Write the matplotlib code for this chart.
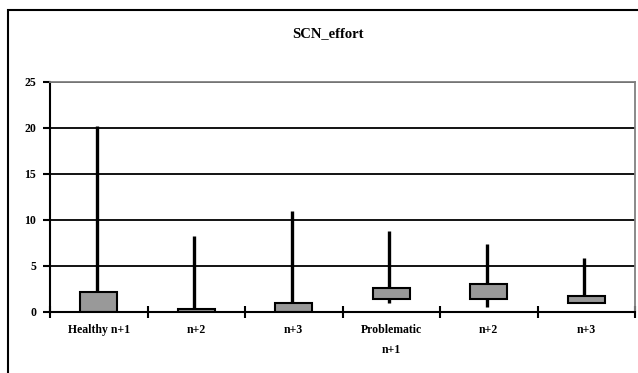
import numpy as np
import matplotlib
matplotlib.use("Agg")
from matplotlib import pyplot as plt
from matplotlib.patches import Rectangle

# stock-style chart: high/low whiskers with a box between open and close
categories = ["Healthy n+1", "n+2", "n+3", "Problematic\nn+1", "n+2", "n+3"]
high = [20.2, 8.2, 11.0, 8.8, 7.4, 5.8]
low = [0.0, 0.0, 0.0, 1.0, 0.5, 0.95]
box_bottom = [0.0, 0.0, 0.0, 1.4, 1.4, 0.95]
box_top = [2.1, 0.25, 1.0, 2.6, 3.0, 1.75]
y_ticks = [0, 5, 10, 15, 20, 25]

plt.rcParams['font.family'] = ['Liberation Serif', 'DejaVu Serif']

fig = plt.figure(figsize=(6.38, 3.73), dpi=100)
fig.patch.set_facecolor("white")

# outer chart frame (runs past the right/bottom edge in the reference)
fig.patches.append(Rectangle((8 / 638, -0.1), 1.1, 1 - 10 / 373 + 0.1,
                             transform=fig.transFigure, fill=False,
                             edgecolor="black", linewidth=1.5))

ax = fig.add_axes([50 / 638, 61.3 / 373, 585 / 638, 229.7 / 373])
x = np.arange(len(categories))

ax.vlines(x - 0.02, low, high, colors="black", linewidth=2.4, zorder=3)
ax.bar(x, np.array(box_top) - np.array(box_bottom), bottom=box_bottom,
       width=0.38, color="#999999", edgecolor="black", linewidth=1.5, zorder=4)

ax.set_xlim(-0.5, len(categories) - 0.5)
ax.set_ylim(0, 25)
ax.set_yticks(y_ticks)
ax.set_yticklabels([str(t) for t in y_ticks], fontsize=8.5, fontweight="bold")
ax.set_xticks(x)
ax.set_xticklabels(categories, fontsize=8.5, fontweight="bold", linespacing=1.9)
ax.tick_params(axis="x", length=0, pad=9)
ax.set_xticks(np.arange(len(categories) + 1) - 0.5, minor=True)
ax.tick_params(axis="x", which="minor", direction="inout", length=9, width=1.5)
ax.tick_params(axis="y", direction="out", length=5, width=1.5, pad=5)

ax.yaxis.grid(True, color="black", linewidth=1.3)
ax.set_axisbelow(True)

ax.spines["left"].set_linewidth(1.5)
ax.spines["bottom"].set_linewidth(1.5)
ax.spines["bottom"].set_zorder(5)
ax.spines["top"].set_color("#808080")
ax.spines["right"].set_color("#808080")
ax.spines["top"].set_linewidth(1.3)
ax.spines["right"].set_linewidth(1.3)

fig.text(328 / 638, 1 - 34 / 373, "SCN_effort", ha="center", va="center",
         fontsize=10.5, fontweight="bold")

fig.savefig("out.png", dpi=100)
